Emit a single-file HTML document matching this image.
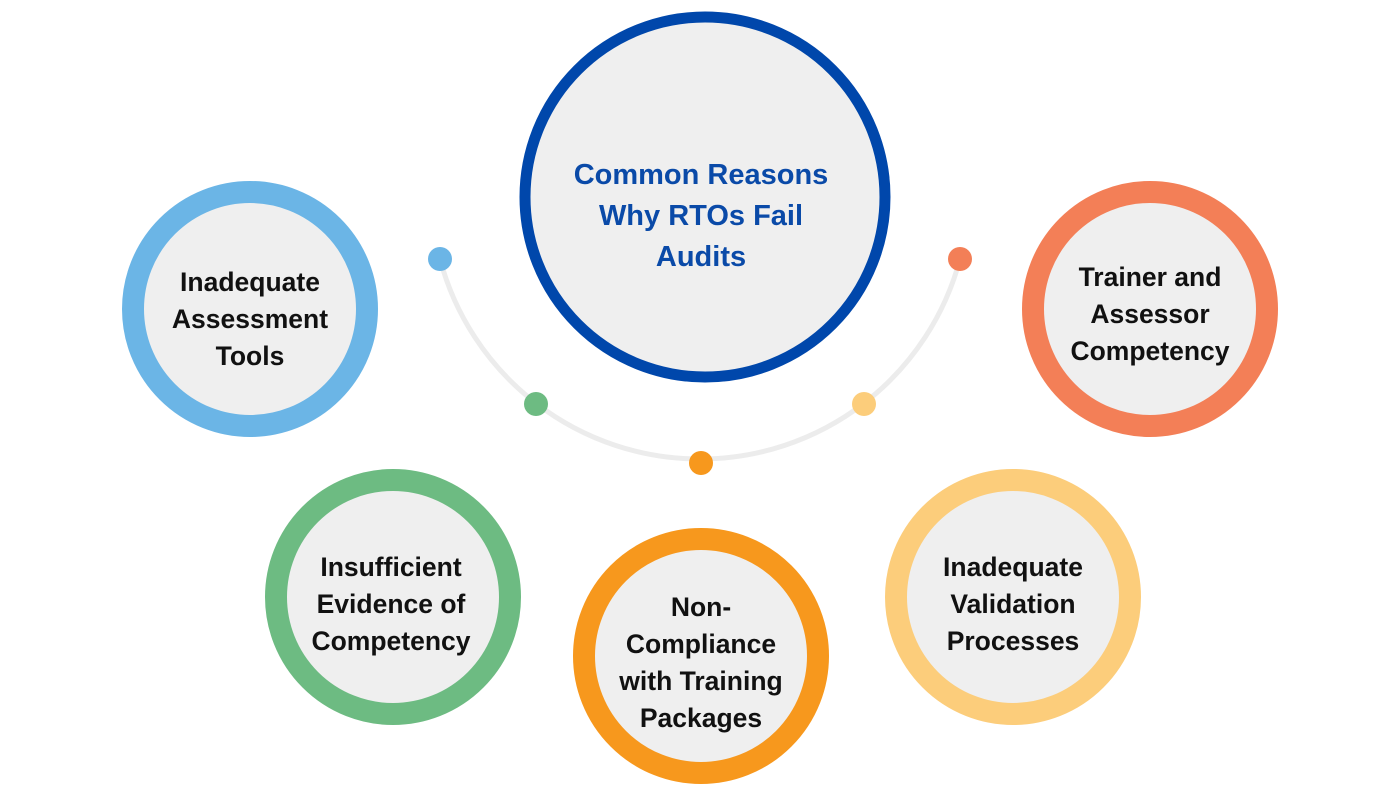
<!DOCTYPE html>
<html><head><style>
html,body{margin:0;padding:0;background:#fff;}
svg{display:block;}
text{font-family:"Liberation Sans",sans-serif;font-weight:bold;text-anchor:middle;}
</style></head><body>
<svg width="1400" height="800" viewBox="0 0 1400 800">
<path d="M440 259 A269 269 0 0 0 960 259" fill="none" stroke="#ececec" stroke-width="5"/>
<circle cx="440" cy="259" r="12" fill="#6bb5e6"/>
<circle cx="536" cy="404" r="12" fill="#6dbb82"/>
<circle cx="701" cy="463" r="12" fill="#f7981d"/>
<circle cx="864" cy="404" r="12" fill="#fccd7b"/>
<circle cx="960" cy="259" r="12" fill="#f37f57"/>

<circle cx="705" cy="197" r="180" fill="#efefef" stroke="#0047ab" stroke-width="11"/>
<g fill="#0a4aa8" font-size="29">
<text x="701" y="184">Common Reasons</text>
<text x="701" y="225">Why RTOs Fail</text>
<text x="701" y="266">Audits</text>
</g>

<g font-size="26.5" fill="#111">
<circle cx="250" cy="309" r="117" fill="#efefef" stroke="#6bb5e6" stroke-width="22"/>
<text x="250" y="291">Inadequate</text>
<text x="250" y="328">Assessment</text>
<text x="250" y="365">Tools</text>

<circle cx="1150" cy="309" r="117" fill="#efefef" stroke="#f37f57" stroke-width="22"/>
<text x="1150" y="286">Trainer and</text>
<text x="1150" y="323">Assessor</text>
<text x="1150" y="360">Competency</text>

<circle cx="393" cy="597" r="117" fill="#efefef" stroke="#6dbb82" stroke-width="22"/>
<text x="391" y="576">Insufficient</text>
<text x="391" y="613">Evidence of</text>
<text x="391" y="650">Competency</text>

<circle cx="701" cy="656" r="117" fill="#efefef" stroke="#f7981d" stroke-width="22"/>
<text x="701" y="616">Non-</text>
<text x="701" y="653">Compliance</text>
<text x="701" y="690">with Training</text>
<text x="701" y="727">Packages</text>

<circle cx="1013" cy="597" r="117" fill="#efefef" stroke="#fccd7b" stroke-width="22"/>
<text x="1013" y="576">Inadequate</text>
<text x="1013" y="613">Validation</text>
<text x="1013" y="650">Processes</text>
</g>
</svg>
</body></html>
